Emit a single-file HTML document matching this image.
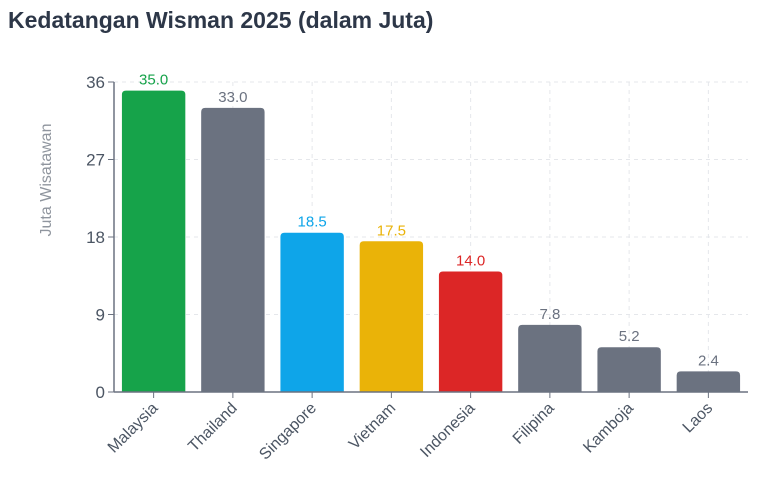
<!DOCTYPE html>
<html><head><meta charset="utf-8"><style>
body{margin:0;background:#fff;width:768px;height:474px;overflow:hidden;font-family:"Liberation Sans",sans-serif}
</style></head><body>
<svg width="768" height="474">
<text x="8" y="28" font-size="23" font-weight="bold" fill="#2d3748">Kedatangan Wisman 2025 (dalam Juta)</text>
<g id="grid"></g><g id="bars"></g><g id="axes"></g>
<text transform="translate(51,180) rotate(-90)" text-anchor="middle" font-size="16" fill="#8f959e">Juta Wisatawan</text>
</svg>
<script>
const categories=["Malaysia","Thailand","Singapore","Vietnam","Indonesia","Filipina","Kamboja","Laos"];
const values=[35.0,33.0,18.5,17.5,14.0,7.8,5.2,2.4];
const colors=["#16a34a","#6b7280","#0ea5e9","#eab308","#dc2626","#6b7280","#6b7280","#6b7280"];
const yTicks=[0,9,18,27,36];
const NS="http://www.w3.org/2000/svg";
const X0=114,X1=748,Y0=392,Y1=82,band=(X1-X0)/categories.length;
const y=v=>Y0-(v/36)*(Y0-Y1);
const xc=i=>X0+band*(i+0.5);
function mk(t,a,p){const e=document.createElementNS(NS,t);for(const k in a)e.setAttribute(k,a[k]);p.appendChild(e);return e;}
const grid=document.getElementById('grid'),bars=document.getElementById('bars'),axes=document.getElementById('axes');
yTicks.forEach(t=>{
 if(t>0){const g=mk('line',{x1:X0,x2:X1,y1:y(t),y2:y(t),stroke:'#e5e7eb','stroke-dasharray':'4 4'},grid);
 
 }
 mk('line',{x1:X0-6,x2:X0,y1:y(t),y2:y(t),stroke:'#6b7280'},axes);
 const l=mk('text',{x:X0-9,y:y(t)+6,'text-anchor':'end','font-size':17,fill:'#4b5563'},axes);l.textContent=t;
 
 
});
categories.forEach((c,i)=>{
 if(i>0){const g=mk('line',{x1:xc(i),x2:xc(i),y1:Y1,y2:Y0,stroke:'#e5e7eb','stroke-dasharray':'4 4'},grid);
 
 }
 const w=band*0.8,top=y(values[i]);
 const b=mk('path',{d:`M${xc(i)-w/2},${Y0}V${top+4}q0,-4 4,-4h${w-8}q4,0 4,4V${Y0}Z`,fill:colors[i]},bars);
 
 
 const v=mk('text',{x:xc(i),y:top-6,'text-anchor':'middle','font-size':15,fill:colors[i]},bars);v.textContent=values[i].toFixed(1);
 
 
 mk('line',{x1:xc(i),x2:xc(i),y1:Y0,y2:Y0+6,stroke:'#6b7280'},axes);
 const l=mk('text',{'text-anchor':'end','font-size':16,fill:'#4b5563',transform:`translate(${xc(i)+5},${Y0+17}) rotate(-45)`},axes);l.textContent=c;
 
 
});
mk('line',{x1:X0,x2:X0,y1:Y1,y2:Y0,stroke:'#6b7280','stroke-width':1.5},axes);
mk('line',{x1:X0,x2:X1,y1:Y0,y2:Y0,stroke:'#6b7280','stroke-width':1.5},axes);
</script>
</body></html>
